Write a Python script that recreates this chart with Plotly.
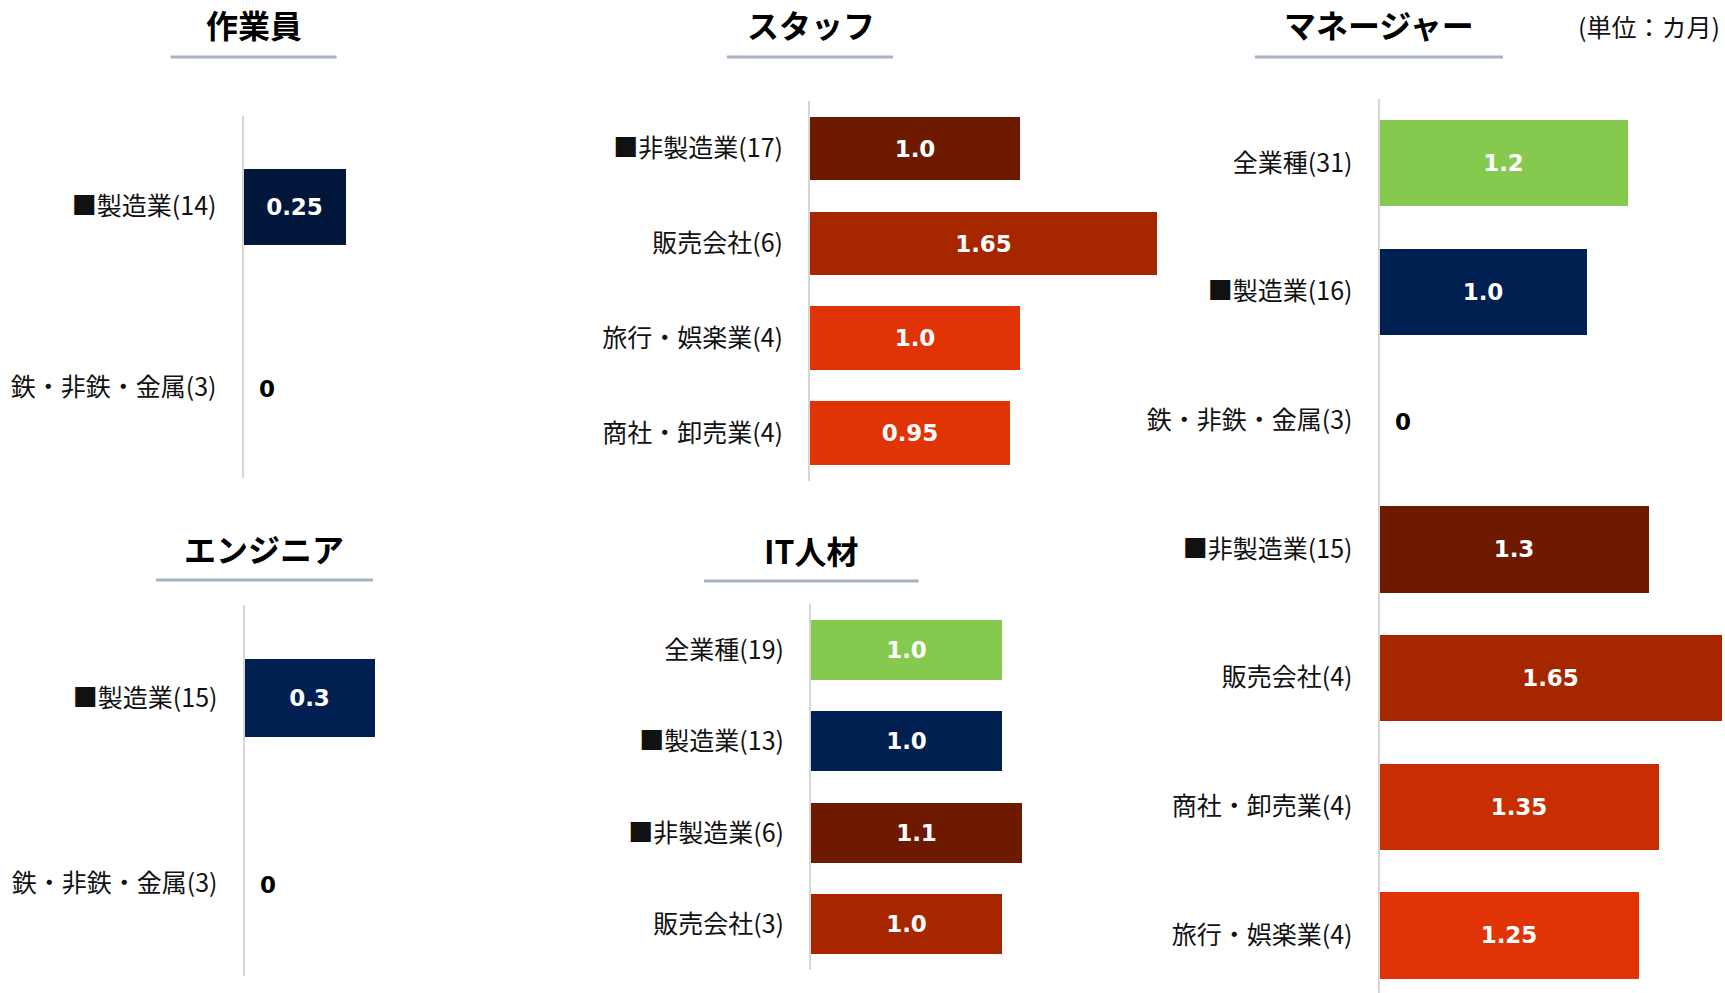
import plotly.graph_objects as go

W, H = 1725, 993

# ---------------- data ----------------
worker_cats = ["■製造業(14)", "鉄・非鉄・金属(3)"]
worker_vals = [0.25, 0]

staff_cats = ["■非製造業(17)", "販売会社(6)", "旅行・娯楽業(4)", "商社・卸売業(4)"]
staff_vals = [1.0, 1.65, 1.0, 0.95]

manager_cats = ["全業種(31)", "■製造業(16)", "鉄・非鉄・金属(3)", "■非製造業(15)",
                "販売会社(4)", "商社・卸売業(4)", "旅行・娯楽業(4)"]
manager_vals = [1.2, 1.0, 0, 1.3, 1.65, 1.35, 1.25]

engineer_cats = ["■製造業(15)", "鉄・非鉄・金属(3)"]
engineer_vals = [0.3, 0]

it_cats = ["全業種(19)", "■製造業(13)", "■非製造業(6)", "販売会社(3)"]
it_vals = [1.0, 1.0, 1.1, 1.0]

titles = ["作業員", "スタッフ", "マネージャー", "エンジニア", "IT人材"]
unit_text = "(単位：カ月)"

# ---------------- styles ----------------
GREEN = "#86C94F"
NAVY = "#002052"
NAVY_DARK = "#00163A"
BROWN = "#6E1A00"
RUST = "#A62600"
RED = "#C92E02"
ORANGE = "#E03406"

worker_cols = [NAVY_DARK, NAVY_DARK]
staff_cols = [BROWN, RUST, ORANGE, ORANGE]
manager_cols = [GREEN, NAVY, NAVY, BROWN, RUST, RED, ORANGE]
engineer_cols = [NAVY, NAVY]
it_cols = [GREEN, NAVY, BROWN, RUST]

CJK = "Noto Sans CJK JP"
NUMF = "DejaVu Sans"
LABEL_SIZE = 25
VALUE_SIZE = 23
TITLE_SIZE = 32


def fmt(v):
    if v == 0:
        return "0"
    s = f"{v:.2f}"
    if s.endswith("0"):
        s = s[:-1]
    return s


def px_x(p):
    return p / W


def px_y(p):
    return 1 - p / H


panels = [
    dict(cats=worker_cats, vals=worker_vals, cols=worker_cols, x0=243.5, unit=407, yt=115.5, yb=478, bf=0.42),
    dict(cats=staff_cats, vals=staff_vals, cols=staff_cols, x0=810, unit=210, yt=101.2, yb=480.7, bf=0.67),
    dict(cats=manager_cats, vals=manager_vals, cols=manager_cols, x0=1379.5, unit=207, yt=98.5, yb=None, bf=0.67, pitch=128.7),
    dict(cats=engineer_cats, vals=engineer_vals, cols=engineer_cols, x0=244.5, unit=433, yt=605, yb=976, bf=0.42),
    dict(cats=it_cats, vals=it_vals, cols=it_cols, x0=811, unit=191.4, yt=604, yb=970, bf=0.66),
]

fig = go.Figure()
layout_axes = {}
annotations = []

for i, p in enumerate(panels, start=1):
    n = len(p["cats"])
    xname = "x" if i == 1 else f"x{i}"
    yname = "y" if i == 1 else f"y{i}"
    xkey = "xaxis" if i == 1 else f"xaxis{i}"
    ykey = "yaxis" if i == 1 else f"yaxis{i}"

    fig.add_trace(go.Bar(
        x=p["vals"], y=p["cats"], orientation="h",
        marker=dict(color=p["cols"], line=dict(width=0)),
        width=p["bf"],
        text=[fmt(v) if v > 0 else "" for v in p["vals"]],
        textposition="inside",
        insidetextanchor="middle",
        insidetextfont=dict(family=NUMF, size=VALUE_SIZE, color="white", weight="bold"),
        cliponaxis=False,
        showlegend=False,
        hoverinfo="skip",
        xaxis=xname, yaxis=yname,
    ))
    # zero values: label just right of the axis
    for c, v in zip(p["cats"], p["vals"]):
        if v == 0:
            annotations.append(dict(
                text=fmt(v), x=v, y=c, xref=xname, yref=yname,
                xanchor="left", yanchor="middle", xshift=13, yshift=-2, showarrow=False,
                font=dict(family=NUMF, size=VALUE_SIZE, color="black", weight="bold"),
            ))

    x_end = min(W, p["x0"] + p["unit"] * 1.8)
    xr = (x_end - p["x0"]) / p["unit"]
    layout_axes[xkey] = dict(
        domain=[px_x(p["x0"]), px_x(x_end)], range=[0, xr],
        visible=False, anchor=yname, fixedrange=True,
    )
    if p["yb"] is None:
        ydom = [0, px_y(p["yt"])]
        span = (H - p["yt"]) / p["pitch"]
        yr = [-0.5 + span, -0.5]
    else:
        ydom = [px_y(p["yb"]), px_y(p["yt"])]
        yr = [n - 0.5, -0.5]
    layout_axes[ykey] = dict(
        domain=ydom, range=yr, type="category",
        anchor=xname, showline=True, linecolor="#D6D6D6", linewidth=2,
        showgrid=False, zeroline=False, ticks="", ticklabelstandoff=20,
        tickfont=dict(family=CJK, size=LABEL_SIZE, color="#111111"),
        fixedrange=True,
    )

fig.update_layout(**layout_axes)

# titles and underlines
title_pos = [(254, 24, 170.5, 336.6, 57), (811, 24, 727, 893, 57), (1379, 24, 1255, 1503, 57),
             (264, 548, 156, 373, 580), (811, 550, 704, 918.5, 581)]
shapes = []
for t, (cx, cy, lx0, lx1, ly) in zip(titles, title_pos):
    annotations.append(dict(
        text=t, x=px_x(cx), y=px_y(cy), xref="paper", yref="paper",
        xanchor="center", yanchor="middle", showarrow=False,
        font=dict(family=CJK, size=TITLE_SIZE, color="#000000", weight="bold"),
    ))
    shapes.append(dict(type="line", xref="paper", yref="paper",
                       x0=px_x(lx0), x1=px_x(lx1), y0=px_y(ly), y1=px_y(ly),
                       line=dict(color="#A7B1C4", width=3)))

annotations.append(dict(
    text=unit_text, x=px_x(1722), y=px_y(26), xref="paper", yref="paper",
    xanchor="right", yanchor="middle", showarrow=False,
    font=dict(family=CJK, size=LABEL_SIZE, color="#111111"),
))

fig.update_layout(
    width=W, height=H,
    margin=dict(l=0, r=0, t=0, b=0),
    paper_bgcolor="white", plot_bgcolor="white",
    annotations=annotations, shapes=shapes,
    bargap=0,
)

fig.write_html("out.html", config={"displayModeBar": False},
               post_script="document.body.style.margin='0';document.body.style.overflow='hidden';")
